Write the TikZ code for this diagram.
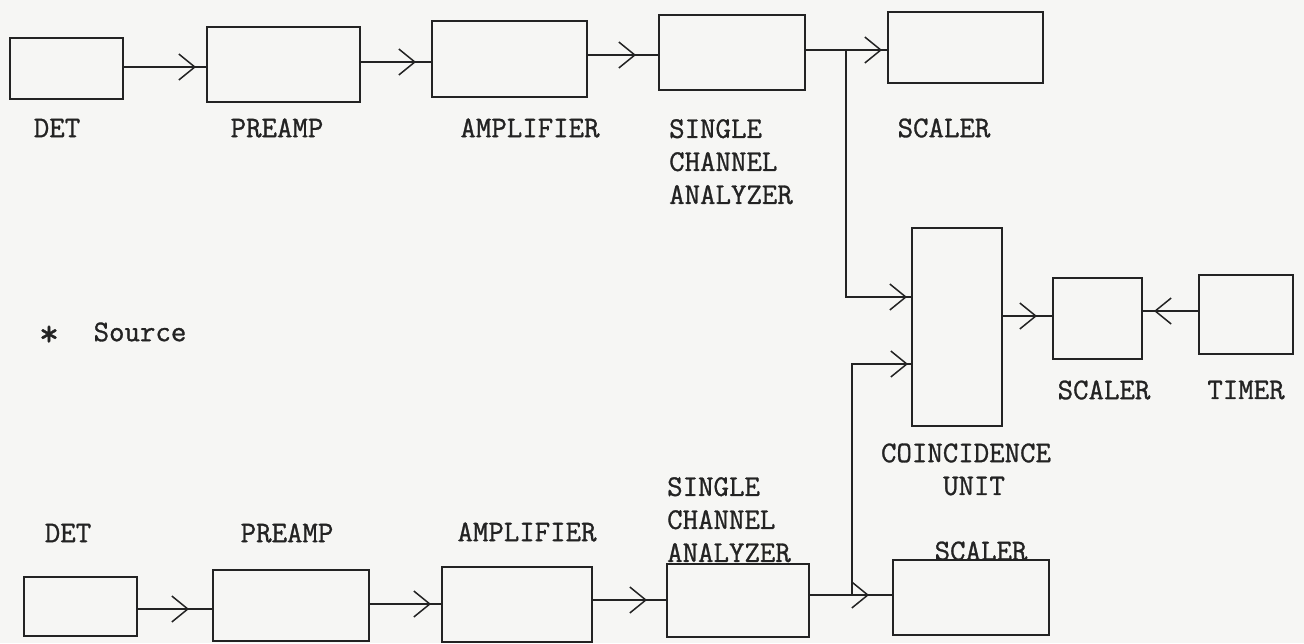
\documentclass[tikz,border=0pt]{standalone}
\usepackage{fontspec}
\newfontfamily\tw{Latin Modern Mono}[BoldFont={Latin Modern Mono}, BoldFeatures={FakeBold=1.0}]
\usetikzlibrary{arrows.meta,decorations.markings}
\definecolor{paper}{RGB}{246,246,244}
\definecolor{ink}{RGB}{35,35,35}
\tikzset{
  blk/.style={draw=ink, line width=2pt, inner sep=0pt, minimum width=#1},
  lbl/.style={inner sep=0pt, text=ink, font=\tw\bfseries\fontsize{30}{33}\selectfont},
  wire/.style={draw=ink, line width=1.8pt},
  fl/.style={wire, postaction={decorate}, decoration={markings,
     mark=at position -#1 with {\arrow{Straight Barb[length=16pt,width=26pt,line width=1.5pt]}}}}
}
\begin{document}
\begin{tikzpicture}[x=1pt,y=-1pt]
\fill[paper] (0,0) rectangle (1304,643);
\useasboundingbox (0,0) rectangle (1304,643);

% top row boxes
\node[blk=113pt, minimum height=61pt] (det1) at (66.5,68.5) {};
\node[blk=153pt, minimum height=75pt] (pre1) at (283.5,64.5) {};
\node[blk=155pt, minimum height=76pt] (amp1) at (509.5,59) {};
\node[blk=146pt, minimum height=75pt] (sca1) at (732,52.5) {};
\node[blk=155pt, minimum height=71pt] (scl1) at (965.5,47.5) {};

% middle boxes
\node[blk=90pt, minimum height=198pt] (coin) at (957,327) {};
\node[blk=89pt, minimum height=81pt] (scl3) at (1097.5,318.5) {};
\node[blk=94pt, minimum height=79pt] (timer) at (1246,314.5) {};

% bottom row boxes
\node[blk=113pt, minimum height=59pt] (det2) at (80.5,606.5) {};
\node[blk=156pt, minimum height=71pt] (pre2) at (291,605.5) {};
\node[blk=150pt, minimum height=75pt] (amp2) at (517,604.5) {};
\node[blk=142pt, minimum height=73pt] (sca2) at (738,600.5) {};
\node[blk=156pt, minimum height=75pt] (scl2) at (971,597.5) {};

% labels top
\node[lbl] (ldet1) at (57,128) {DET};
\node[lbl] (lpre1) at (277,128) {PREAMP};
\node[lbl] (lamp1) at (530,128) {AMPLIFIER};
\node[lbl, align=left, anchor=north west] (lsca1) at (669,119) {SINGLE\\CHANNEL\\ANALYZER};
\node[lbl] (lscl1) at (944,128) {SCALER};

% labels middle
\node[lbl] (lsrc) at (140,332) {Source};
\node[lbl, anchor=base, scale=1.3] (star) at (49,346) {*};
\node[lbl, align=center] (lcoin) at (966,453) {COINCIDENCE};
\node[lbl] (lunit) at (974,486) {UNIT};
\node[lbl] (lscl3) at (1104,390) {SCALER};
\node[lbl] (ltimer) at (1246,390) {TIMER};

% labels bottom
\node[lbl] (ldet2) at (68,533) {DET};
\node[lbl] (lpre2) at (287,533) {PREAMP};
\node[lbl] (lamp2) at (527,532) {AMPLIFIER};
\node[lbl, align=left, anchor=north west] (lsca2) at (667,477) {SINGLE\\CHANNEL\\ANALYZER};
\node[lbl] (lscl2) at (981,551) {SCALER};

% junctions
\coordinate (j1) at (846,50);
\coordinate (j2) at (852,595);
\coordinate (in1) at (912,297);
\coordinate (in2) at (912,364);

% top arrows
\draw[fl=10pt] (det1.east |- 0,67) -- (pre1.west |- 0,67);
\draw[fl=15pt] (pre1.east |- 0,62) -- (amp1.west |- 0,62);
\draw[fl=22pt] (amp1.east |- 0,55) -- (sca1.west |- 0,55);
\draw[fl=5pt] (sca1.east |- j1) -- (scl1.west |- j1);
\draw[fl=4pt] (j1) |- (coin.west |- in1);

% bottom arrows
\draw[fl=23pt] (det2.east |- 0,609) -- (pre2.west |- 0,609);
\draw[fl=10pt] (pre2.east |- 0,604) -- (amp2.west |- 0,604);
\draw[fl=19pt] (amp2.east |- 0,600) -- (sca2.west |- 0,600);
\draw[fl=23pt] (sca2.east |- j2) -- (scl2.west |- j2);
\draw[fl=3pt] (j2) |- (coin.west |- in2);

% middle arrows
\draw[fl=15pt] (coin.east |- 0,316) -- (scl3.west |- 0,316);
\draw[fl=11pt] (timer.west |- 0,311) -- (scl3.east |- 0,311);
\end{tikzpicture}
\end{document}
